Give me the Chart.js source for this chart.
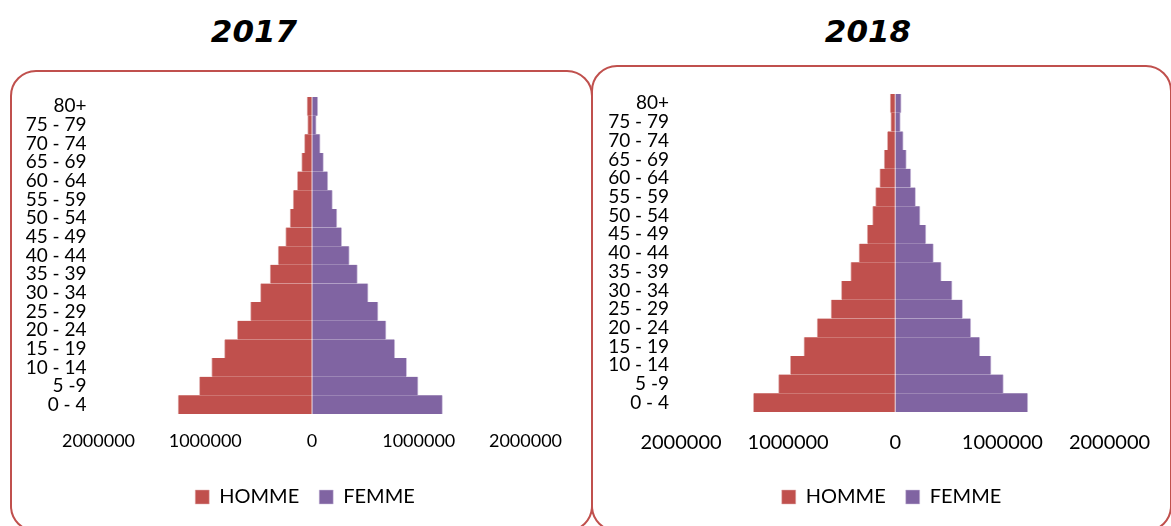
<!DOCTYPE html>
<html lang="fr">
<head>
    <meta charset="UTF-8">
    <title>Pyramide des âges 2017 - 2018</title>
    <script src="https://cdn.jsdelivr.net/npm/chart.js"></script>
    <style>
        html, body { margin: 0; padding: 0; width: 1171px; height: 526px; overflow: hidden; background: #fff; }
        .titre { position: absolute; top: 13px; width: 200px; text-align: center;
                 font: italic bold 31px "DejaVu Sans", sans-serif; color: #000; }
        .cadre { position: absolute; border: 2px solid #C0504D; border-radius: 26px; box-sizing: border-box; }
        .zone { position: absolute; }
    </style>
</head>
<body>
    <div class="titre" style="left:154px">2017</div>
    <div class="titre" style="left:768px">2018</div>

    <div class="cadre" style="left:10px; top:70px; width:583px; height:462px"></div>
    <div class="cadre" style="left:591px; top:65px; width:581px; height:467px"></div>

    <div class="zone" style="left:3px; top:70px; width:604px; height:470px">
        <canvas id="pyr2017" width="604" height="470"></canvas>
    </div>
    <div class="zone" style="left:593px; top:66px; width:597px; height:470px">
        <canvas id="pyr2018" width="597" height="470"></canvas>
    </div>

    <script>
        // tranches d'âge, du bas vers le haut de la pyramide
        const tranches = ['0 - 4', '5 -9', '10 - 14', '15 - 19', '20 - 24', '25 - 29', '30 - 34', '35 - 39',
                          '40 - 44', '45 - 49', '50 - 54', '55 - 59', '60 - 64', '65 - 69', '70 - 74', '75 - 79', '80+'];

        const homme2017 = [1255000, 1055000, 940000, 820000, 700000, 576000, 483000, 393000,
                           318000, 247000, 206000, 177000, 138000, 97000, 71000, 41000, 47000];
        const femme2017 = [1223000, 994000, 887000, 776000, 694000, 619000, 526000, 426000,
                           350000, 279000, 234000, 192000, 149000, 108000, 77000, 40000, 55000];

        const homme2018 = [1325000, 1090000, 980000, 853000, 730000, 600000, 503000, 416000,
                           339000, 262000, 212000, 184000, 145000, 104000, 74000, 42000, 48000];
        const femme2018 = [1238000, 1010000, 895000, 790000, 706000, 629000, 531000, 430000,
                           357000, 287000, 232000, 190000, 146000, 104000, 75000, 48000, 56000];

        const axeX = [-2000000, 2000000, 1000000]; // min, max, pas

        function pyramide(id, hommes, femmes, g) {
            const ctx = document.getElementById(id).getContext('2d');
            return new Chart(ctx, {
                type: 'bar',
                data: {
                    labels: tranches,
                    datasets: [{
                        label: 'HOMME',
                        data: hommes.map(v => -v), // à gauche
                        backgroundColor: '#C0504D',
                        borderColor: '#e2b3b2',
                        borderWidth: { left: 1, right: 1, top: 0, bottom: 0 },
                        borderSkipped: false
                    }, {
                        label: 'FEMME',
                        data: femmes,
                        backgroundColor: '#8064A2',
                        borderColor: '#cfc3de',
                        borderWidth: { left: 1, right: 1, top: 0, bottom: 0 },
                        borderSkipped: false
                    }]
                },
                options: {
                    indexAxis: 'y',
                    responsive: false,
                    animation: false,
                    barPercentage: 1,
                    categoryPercentage: 1,
                    layout: { padding: { top: g.haut, left: 0, right: 0, bottom: g.bas } },
                    plugins: {
                        tooltip: { enabled: false },
                        legend: {
                            position: 'bottom',
                            labels: {
                                boxWidth: 14, boxHeight: 14, padding: 20, color: '#000',
                                font: { family: 'Lato', size: 20 }
                            }
                        }
                    },
                    scales: {
                        x: {
                            stacked: true,
                            min: axeX[0], max: axeX[1],
                            grid: { display: false, drawTicks: false },
                            border: { display: false },
                            ticks: {
                                stepSize: axeX[2], maxRotation: 0, autoSkip: false,
                                padding: g.padX, color: '#000',
                                font: { family: 'Lato', size: g.policeX },
                                callback: v => String(Math.abs(v))
                            },
                            afterFit: s => { s.height = g.hautX; }
                        },
                        y: {
                            stacked: true,
                            reverse: true,
                            grid: { display: false, drawTicks: false },
                            border: { display: false },
                            ticks: {
                                autoSkip: false, padding: 12, color: '#000',
                                font: { family: 'Lato', size: 19, lineHeight: 1 }
                            },
                            afterFit: s => { s.width = g.largY; }
                        },
                        marge: {
                            type: 'linear', axis: 'y', position: 'right',
                            grid: { display: false }, border: { display: false },
                            ticks: { display: false },
                            afterFit: s => { s.width = g.margeD; }
                        }
                    }
                }
            });
        }

        pyramide('pyr2017', homme2017, femme2017,
                 { haut: 27, bas: 23, largY: 95.5, margeD: 81.5, hautX: 53, padX: 16, policeX: 18 });
        pyramide('pyr2018', homme2018, femme2018,
                 { haut: 28, bas: 19, largY: 88, margeD: 80.5, hautX: 55, padX: 19, policeX: 20 });
    </script>
</body>
</html>
